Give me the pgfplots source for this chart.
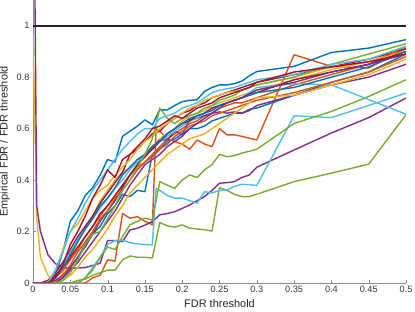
\documentclass[border=0pt]{standalone}
\usepackage{fontspec}
\setmainfont{Liberation Sans}
\usepackage{pgfplots}
\pgfplotsset{compat=1.18}
\definecolor{mB}{HTML}{0072BD}
\definecolor{mO}{HTML}{D95319}
\definecolor{mY}{HTML}{EDB120}
\definecolor{mP}{HTML}{7E2F8E}
\definecolor{mG}{HTML}{77AC30}
\definecolor{mL}{HTML}{4DBEEE}
\definecolor{mR}{HTML}{A2142F}
\begin{document}
\begin{tikzpicture}
\begin{axis}[
  scale only axis, width=373bp, height=283bp,
  xmin=0, xmax=0.5, ymin=0, ymax=1.1,
  axis lines*=left,
  tick align=inside, major tick length=3bp,
  xtick={0,0.05,0.1,0.15,0.2,0.25,0.3,0.35,0.4,0.45,0.5},
  xticklabels={0,0.05,0.1,0.15,0.2,0.25,0.3,0.35,0.4,0.45,0.5},
  ytick={0,0.2,0.4,0.6,0.8,1},
  yticklabels={0,0.2,0.4,0.6,0.8,1},
  tick label style={font=\fontsize{9.2}{11}\selectfont, text=black!80},
  label style={font=\fontsize{11}{13}\selectfont, text=black!85},
  xlabel={FDR threshold}, ylabel={Empirical FDR / FDR threshold},
  axis line style={black!45}, tick style={black!45},
  every axis plot/.append style={line width=1.4bp, line join=round},
  clip=true,
]
% B1
\addplot[mB] coordinates {(0,0)(0.01,0)(0.02,0)(0.03,0.03)(0.04,0.12)(0.05,0.24)(0.06,0.28)(0.07,0.34)(0.08,0.37)(0.09,0.42)(0.10,0.48)(0.11,0.47)(0.12,0.57)(0.13,0.59)(0.14,0.61)(0.15,0.634)(0.16,0.615)(0.17,0.673)(0.18,0.673)(0.19,0.69)(0.20,0.705)(0.21,0.71)(0.22,0.712)(0.23,0.745)(0.24,0.76)(0.25,0.77)(0.26,0.77)(0.27,0.775)(0.28,0.785)(0.29,0.805)(0.30,0.822)(0.35,0.842)(0.40,0.896)(0.45,0.913)(0.50,0.946)};
% O1
\addplot[mO] coordinates {(0,0)(0.07,0)(0.08,0.02)(0.09,0.03)(0.10,0.09)(0.11,0.085)(0.12,0.27)(0.13,0.252)(0.14,0.258)(0.15,0.24)(0.16,0.226)(0.165,0.6)(0.17,0.59)(0.18,0.56)(0.19,0.55)(0.20,0.54)(0.21,0.52)(0.22,0.556)(0.23,0.54)(0.24,0.53)(0.25,0.6)(0.26,0.576)(0.27,0.576)(0.28,0.57)(0.29,0.563)(0.30,0.556)(0.35,0.887)(0.40,0.842)(0.45,0.836)(0.50,0.913)};
% Y1
\addplot[mY] coordinates {(0,0.97)(0.005,0.25)(0.01,0.1)(0.02,0.03)(0.03,0)(0.04,0.04)(0.05,0.1)(0.06,0.16)(0.07,0.22)(0.08,0.26)(0.09,0.32)(0.10,0.36)(0.11,0.4)(0.12,0.43)(0.13,0.45)(0.14,0.48)(0.15,0.5)(0.16,0.53)(0.17,0.56)(0.18,0.58)(0.19,0.6)(0.20,0.63)(0.21,0.65)(0.22,0.66)(0.23,0.67)(0.24,0.69)(0.25,0.7)(0.26,0.71)(0.27,0.72)(0.28,0.73)(0.29,0.74)(0.30,0.75)(0.35,0.79)(0.40,0.83)(0.45,0.86)(0.50,0.91)};
% P1
\addplot[mP] coordinates {(0,2.0)(0.005,0.3)(0.01,0.2)(0.02,0.11)(0.03,0.075)(0.04,0.06)(0.05,0.057)(0.06,0.058)(0.07,0.06)(0.08,0.068)(0.09,0.077)(0.10,0.165)(0.11,0.165)(0.12,0.161)(0.13,0.206)(0.14,0.213)(0.15,0.225)(0.16,0.239)(0.17,0.265)(0.18,0.27)(0.19,0.277)(0.20,0.29)(0.21,0.303)(0.22,0.32)(0.23,0.336)(0.24,0.36)(0.25,0.388)(0.26,0.39)(0.27,0.394)(0.28,0.41)(0.29,0.42)(0.30,0.45)(0.35,0.517)(0.40,0.583)(0.45,0.643)(0.50,0.719)};
% G1
\addplot[mG] coordinates {(0,0)(0.05,0)(0.06,0.01)(0.07,0.015)(0.08,0.03)(0.09,0.04)(0.10,0.05)(0.11,0.05)(0.12,0.09)(0.13,0.105)(0.14,0.1)(0.15,0.1)(0.16,0.097)(0.17,0.235)(0.18,0.222)(0.19,0.217)(0.20,0.226)(0.21,0.213)(0.22,0.21)(0.23,0.207)(0.24,0.202)(0.25,0.371)(0.26,0.36)(0.27,0.345)(0.28,0.336)(0.29,0.336)(0.30,0.345)(0.35,0.394)(0.40,0.427)(0.45,0.462)(0.50,0.654)};
% LB1
\addplot[mL] coordinates {(0,0)(0.06,0)(0.07,0.02)(0.08,0.06)(0.09,0.1)(0.10,0.15)(0.11,0.165)(0.12,0.167)(0.13,0.157)(0.14,0.152)(0.15,0.15)(0.16,0.148)(0.165,0.368)(0.17,0.36)(0.18,0.34)(0.19,0.33)(0.20,0.33)(0.21,0.32)(0.22,0.31)(0.23,0.355)(0.24,0.35)(0.25,0.36)(0.26,0.362)(0.27,0.375)(0.28,0.384)(0.29,0.382)(0.30,0.379)(0.35,0.65)(0.40,0.643)(0.45,0.69)(0.50,0.738)};
% R1
\addplot[mR] coordinates {(0,0)(0.01,0)(0.02,0.01)(0.03,0.04)(0.04,0.08)(0.05,0.13)(0.06,0.18)(0.07,0.22)(0.08,0.26)(0.09,0.31)(0.10,0.35)(0.11,0.39)(0.12,0.43)(0.13,0.5)(0.14,0.52)(0.15,0.55)(0.16,0.58)(0.17,0.59)(0.18,0.62)(0.19,0.64)(0.20,0.66)(0.21,0.67)(0.22,0.69)(0.23,0.7)(0.24,0.72)(0.25,0.73)(0.26,0.74)(0.27,0.75)(0.28,0.76)(0.29,0.77)(0.30,0.78)(0.35,0.81)(0.40,0.84)(0.45,0.87)(0.50,0.91)};
% B2
\addplot[mB] coordinates {(0,0)(0.03,0)(0.04,0.02)(0.05,0.06)(0.06,0.1)(0.07,0.15)(0.08,0.19)(0.09,0.22)(0.10,0.27)(0.11,0.3)(0.12,0.345)(0.13,0.336)(0.14,0.36)(0.15,0.355)(0.16,0.5)(0.17,0.52)(0.18,0.55)(0.19,0.56)(0.20,0.58)(0.21,0.6)(0.22,0.6)(0.23,0.61)(0.24,0.63)(0.25,0.64)(0.26,0.65)(0.27,0.66)(0.28,0.66)(0.29,0.675)(0.30,0.68)(0.35,0.73)(0.40,0.78)(0.45,0.82)(0.50,0.89)};
% O2
\addplot[mO] coordinates {(0,0)(0.02,0)(0.03,0.02)(0.04,0.05)(0.05,0.09)(0.06,0.13)(0.07,0.18)(0.08,0.22)(0.09,0.26)(0.10,0.3)(0.11,0.34)(0.12,0.38)(0.13,0.42)(0.14,0.45)(0.15,0.47)(0.16,0.5)(0.17,0.53)(0.18,0.56)(0.19,0.58)(0.20,0.6)(0.21,0.62)(0.22,0.63)(0.23,0.65)(0.24,0.66)(0.25,0.68)(0.26,0.69)(0.27,0.7)(0.28,0.7)(0.29,0.71)(0.30,0.72)(0.35,0.77)(0.40,0.81)(0.45,0.85)(0.50,0.92)};
% Y2
\addplot[mY] coordinates {(0,0)(0.02,0)(0.03,0.05)(0.04,0.13)(0.05,0.2)(0.06,0.23)(0.07,0.28)(0.08,0.33)(0.09,0.36)(0.10,0.38)(0.11,0.42)(0.12,0.45)(0.13,0.48)(0.14,0.52)(0.15,0.55)(0.16,0.57)(0.17,0.6)(0.18,0.62)(0.19,0.64)(0.20,0.66)(0.21,0.68)(0.22,0.69)(0.23,0.71)(0.24,0.72)(0.25,0.73)(0.26,0.74)(0.27,0.745)(0.28,0.75)(0.29,0.76)(0.30,0.77)(0.35,0.8)(0.40,0.84)(0.45,0.86)(0.50,0.9)};
% P2
\addplot[mP] coordinates {(0,0)(0.02,0)(0.03,0.01)(0.04,0.03)(0.05,0.06)(0.06,0.1)(0.07,0.14)(0.08,0.19)(0.09,0.24)(0.10,0.28)(0.11,0.32)(0.12,0.37)(0.13,0.42)(0.14,0.46)(0.15,0.5)(0.16,0.53)(0.17,0.556)(0.18,0.556)(0.19,0.59)(0.20,0.576)(0.21,0.634)(0.22,0.64)(0.23,0.65)(0.24,0.66)(0.25,0.665)(0.26,0.66)(0.27,0.665)(0.28,0.66)(0.29,0.67)(0.30,0.69)(0.35,0.73)(0.40,0.77)(0.45,0.8)(0.50,0.85)};
% G2
\addplot[mG] coordinates {(0,0)(0.06,0)(0.07,0.02)(0.08,0.05)(0.09,0.1)(0.10,0.14)(0.11,0.13)(0.12,0.18)(0.13,0.226)(0.14,0.24)(0.15,0.252)(0.16,0.245)(0.17,0.394)(0.18,0.38)(0.19,0.368)(0.20,0.4)(0.21,0.42)(0.22,0.41)(0.23,0.44)(0.24,0.46)(0.25,0.5)(0.26,0.491)(0.27,0.495)(0.28,0.505)(0.29,0.512)(0.30,0.52)(0.35,0.62)(0.40,0.667)(0.45,0.725)(0.50,0.79)};
% LB2
\addplot[mL] coordinates {(0,0)(0.02,0)(0.03,0.03)(0.04,0.07)(0.05,0.12)(0.06,0.17)(0.07,0.21)(0.08,0.25)(0.09,0.29)(0.10,0.33)(0.11,0.37)(0.12,0.4)(0.13,0.44)(0.14,0.47)(0.15,0.5)(0.16,0.52)(0.17,0.55)(0.18,0.57)(0.19,0.59)(0.20,0.61)(0.21,0.63)(0.22,0.64)(0.23,0.66)(0.24,0.68)(0.25,0.69)(0.26,0.7)(0.27,0.71)(0.28,0.72)(0.29,0.74)(0.30,0.76)(0.35,0.775)(0.40,0.77)(0.45,0.713)(0.50,0.656)};
% R2
\addplot[mR] coordinates {(0,0)(0.02,0)(0.03,0.03)(0.04,0.06)(0.05,0.1)(0.06,0.14)(0.07,0.18)(0.08,0.22)(0.09,0.27)(0.10,0.3)(0.11,0.34)(0.12,0.38)(0.13,0.42)(0.14,0.46)(0.15,0.49)(0.16,0.52)(0.17,0.55)(0.18,0.58)(0.19,0.6)(0.20,0.62)(0.21,0.63)(0.22,0.65)(0.23,0.66)(0.24,0.68)(0.25,0.69)(0.26,0.7)(0.27,0.71)(0.28,0.72)(0.29,0.73)(0.30,0.74)(0.35,0.79)(0.40,0.82)(0.45,0.85)(0.50,0.9)};
% B3
\addplot[mB] coordinates {(0,0)(0.02,0)(0.03,0.02)(0.04,0.06)(0.05,0.11)(0.06,0.16)(0.07,0.21)(0.08,0.25)(0.09,0.3)(0.10,0.33)(0.11,0.37)(0.12,0.42)(0.13,0.45)(0.14,0.48)(0.15,0.5)(0.16,0.53)(0.17,0.55)(0.18,0.58)(0.19,0.6)(0.20,0.62)(0.21,0.64)(0.22,0.65)(0.23,0.66)(0.24,0.67)(0.25,0.69)(0.26,0.7)(0.27,0.71)(0.28,0.72)(0.29,0.73)(0.30,0.74)(0.35,0.76)(0.40,0.8)(0.45,0.84)(0.50,0.9)};
% O3
\addplot[mO] coordinates {(0,0)(0.03,0)(0.04,0.03)(0.05,0.07)(0.06,0.12)(0.07,0.16)(0.08,0.2)(0.09,0.25)(0.10,0.28)(0.11,0.33)(0.12,0.36)(0.13,0.4)(0.14,0.44)(0.15,0.47)(0.16,0.49)(0.17,0.52)(0.18,0.54)(0.19,0.57)(0.20,0.59)(0.21,0.61)(0.22,0.62)(0.23,0.63)(0.24,0.65)(0.25,0.66)(0.26,0.67)(0.27,0.68)(0.28,0.69)(0.29,0.7)(0.30,0.71)(0.35,0.74)(0.40,0.78)(0.45,0.82)(0.50,0.88)};
% Y3
\addplot[mY] coordinates {(0,0)(0.03,0)(0.04,0.01)(0.05,0.03)(0.06,0.06)(0.07,0.1)(0.08,0.13)(0.09,0.17)(0.10,0.21)(0.11,0.26)(0.12,0.3)(0.13,0.35)(0.14,0.38)(0.15,0.41)(0.16,0.44)(0.17,0.47)(0.18,0.5)(0.19,0.52)(0.20,0.54)(0.21,0.56)(0.22,0.57)(0.23,0.58)(0.24,0.6)(0.25,0.62)(0.26,0.64)(0.27,0.66)(0.28,0.68)(0.29,0.7)(0.30,0.72)(0.35,0.73)(0.40,0.77)(0.45,0.81)(0.50,0.87)};
% P3
\addplot[mP] coordinates {(0,0)(0.03,0)(0.04,0.02)(0.05,0.05)(0.06,0.08)(0.07,0.12)(0.08,0.16)(0.09,0.2)(0.10,0.24)(0.11,0.28)(0.12,0.33)(0.13,0.38)(0.14,0.42)(0.15,0.46)(0.16,0.48)(0.17,0.5)(0.18,0.53)(0.19,0.55)(0.20,0.57)(0.21,0.6)(0.22,0.62)(0.23,0.64)(0.24,0.66)(0.25,0.68)(0.26,0.7)(0.27,0.71)(0.28,0.72)(0.29,0.735)(0.30,0.75)(0.35,0.78)(0.40,0.82)(0.45,0.85)(0.50,0.89)};
% G3
\addplot[mG] coordinates {(0,0)(0.03,0)(0.04,0.01)(0.05,0.04)(0.06,0.09)(0.07,0.15)(0.08,0.19)(0.09,0.2)(0.10,0.25)(0.11,0.3)(0.12,0.36)(0.13,0.4)(0.14,0.45)(0.15,0.5)(0.16,0.56)(0.17,0.68)(0.18,0.64)(0.19,0.62)(0.20,0.64)(0.21,0.65)(0.22,0.66)(0.23,0.68)(0.24,0.69)(0.25,0.71)(0.26,0.72)(0.27,0.73)(0.28,0.75)(0.29,0.76)(0.30,0.77)(0.35,0.8)(0.40,0.85)(0.45,0.89)(0.50,0.93)};
% LB3
\addplot[mL] coordinates {(0,0)(0.02,0)(0.03,0.05)(0.04,0.12)(0.05,0.2)(0.06,0.25)(0.07,0.31)(0.08,0.36)(0.09,0.4)(0.10,0.44)(0.11,0.48)(0.12,0.52)(0.13,0.55)(0.14,0.58)(0.15,0.6)(0.16,0.6)(0.17,0.64)(0.18,0.65)(0.19,0.66)(0.20,0.68)(0.21,0.69)(0.22,0.7)(0.23,0.72)(0.24,0.74)(0.25,0.75)(0.26,0.755)(0.27,0.76)(0.28,0.77)(0.29,0.78)(0.30,0.79)(0.35,0.81)(0.40,0.85)(0.45,0.87)(0.50,0.92)};
% R3
\addplot[mR] coordinates {(0,0)(0.02,0)(0.03,0.02)(0.04,0.07)(0.05,0.15)(0.06,0.2)(0.07,0.26)(0.08,0.33)(0.09,0.38)(0.10,0.44)(0.11,0.41)(0.12,0.48)(0.13,0.5)(0.14,0.53)(0.15,0.56)(0.16,0.6)(0.17,0.61)(0.18,0.63)(0.19,0.65)(0.20,0.64)(0.21,0.66)(0.22,0.68)(0.23,0.69)(0.24,0.7)(0.25,0.72)(0.26,0.73)(0.27,0.74)(0.28,0.75)(0.29,0.76)(0.30,0.78)(0.35,0.82)(0.40,0.84)(0.45,0.86)(0.50,0.89)};
% reference line
\addplot[black!85, line width=1.8bp] coordinates {(0,1)(0.5,1)};
\end{axis}
\pgfresetboundingbox
\path[use as bounding box] ([xshift=-33bp,yshift=-29bp]current axis.south west) rectangle ([xshift=9bp]current axis.north east);
\end{tikzpicture}
\end{document}
